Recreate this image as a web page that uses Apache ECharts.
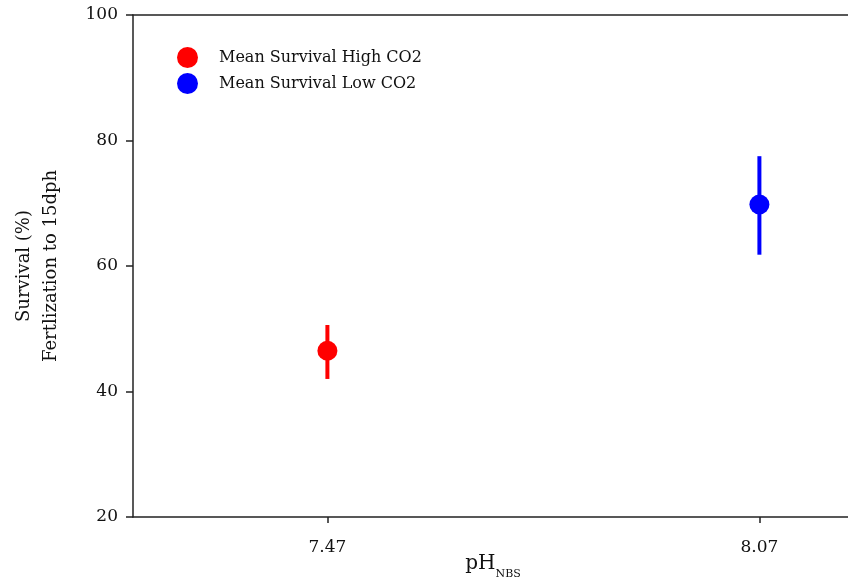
<!DOCTYPE html>
<html>
<head>
<meta charset="utf-8">
<script src="https://cdn.jsdelivr.net/npm/echarts@6/dist/echarts.min.js"></script>
<style>
  html, body { margin: 0; padding: 0; background: #fff; }
  #chart { width: 848px; height: 583px; }
</style>
</head>
<body>
<div id="chart"></div>
<script>
// pH treatments and survival (mean with error range)
const seriesNames = ['Mean Survival High CO2', 'Mean Survival Low CO2'];
const phValues = [7.47, 8.07];
const meanSurvival = [46.5, 69.8];
const upperSurvival = [50.6, 77.5];
const lowerSurvival = [42.0, 61.8];
const colors = ['#ff0000', '#0000ff'];
const yTicks = [20, 40, 60, 80, 100];

const FONT = 'DejaVu Serif';
const AXIS_COLOR = '#222';
const chart = echarts.init(document.getElementById('chart'));

const series = [];
seriesNames.forEach((name, i) => {
  // vertical error bar
  series.push({
    type: 'custom',
    name: name,
    data: [[phValues[i], lowerSurvival[i], upperSurvival[i]]],
    renderItem: function (params, api) {
      const top = api.coord([api.value(0), api.value(2)]);
      const bot = api.coord([api.value(0), api.value(1)]);
      return {
        type: 'line',
        shape: { x1: top[0], y1: top[1], x2: bot[0], y2: bot[1] },
        style: { stroke: colors[i], lineWidth: 4 }
      };
    },
    itemStyle: { color: colors[i] },
    z: 2
  });
  // mean point
  series.push({
    type: 'scatter',
    name: name,
    data: [[phValues[i], meanSurvival[i]]],
    symbol: 'circle',
    symbolSize: 20,
    itemStyle: { color: colors[i], opacity: 1 },
    z: 3
  });
});

chart.setOption({
  animation: false,
  backgroundColor: '#ffffff',
  grid: {
    left: 133, top: 15, bottom: 66, right: -5,
    outerBoundsMode: 'none',
    containLabel: false
  },
  legend: {
    data: seriesNames.map(n => ({ name: n, icon: 'circle' })),
    orient: 'vertical',
    left: 172, top: 42,
    itemWidth: 21, itemHeight: 21,
    itemGap: 5,
    textStyle: { fontFamily: FONT, fontSize: 16, color: '#111', padding: [0, 0, 0, 16] }
  },
  xAxis: [{
    type: 'value',
    min: 7.2, max: 8.2,
    splitLine: { show: false },
    axisLine: { show: true, lineStyle: { color: AXIS_COLOR, width: 1.5 } },
    axisTick: { show: true, customValues: phValues, length: 6, lineStyle: { color: AXIS_COLOR, width: 1.5 } },
    axisLabel: {
      customValues: phValues,
      formatter: v => v.toFixed(2),
      fontFamily: FONT, fontSize: 17, color: '#111', margin: 22
    },
    name: '{m|pH}{s|NBS}',
    nameLocation: 'middle',
    nameGap: 37,
    nameMoveOverlap: false,
    nameTextStyle: {
      rich: {
        m: { fontFamily: FONT, fontSize: 20, color: '#111', verticalAlign: 'bottom' },
        s: { fontFamily: FONT, fontSize: 11, color: '#111', verticalAlign: 'bottom', padding: [0, 0, -6, 0] }
      }
    }
  }, {
    // top frame line
    type: 'value',
    position: 'top',
    min: 7.2, max: 8.2,
    axisLine: { show: true, onZero: false, lineStyle: { color: AXIS_COLOR, width: 1.5 } },
    axisTick: { show: false },
    axisLabel: { show: false },
    splitLine: { show: false }
  }],
  yAxis: {
    type: 'value',
    min: 20, max: 100, interval: 20,
    splitLine: { show: false },
    axisLine: { show: true, lineStyle: { color: AXIS_COLOR, width: 1.5 } },
    axisTick: { show: true, inside: false, length: 7, lineStyle: { color: AXIS_COLOR, width: 1.5 } },
    axisLabel: {
      fontFamily: FONT, fontSize: 17, color: '#111', margin: 15
    },
    name: 'Survival (%)\nFertlization to 15dph',
    nameLocation: 'middle',
    nameGap: 68,
    nameRotate: 90,
    nameMoveOverlap: false,
    nameTextStyle: { fontFamily: FONT, fontSize: 18, color: '#111', lineHeight: 27 }
  },
  series: series
});
</script>
</body>
</html>
